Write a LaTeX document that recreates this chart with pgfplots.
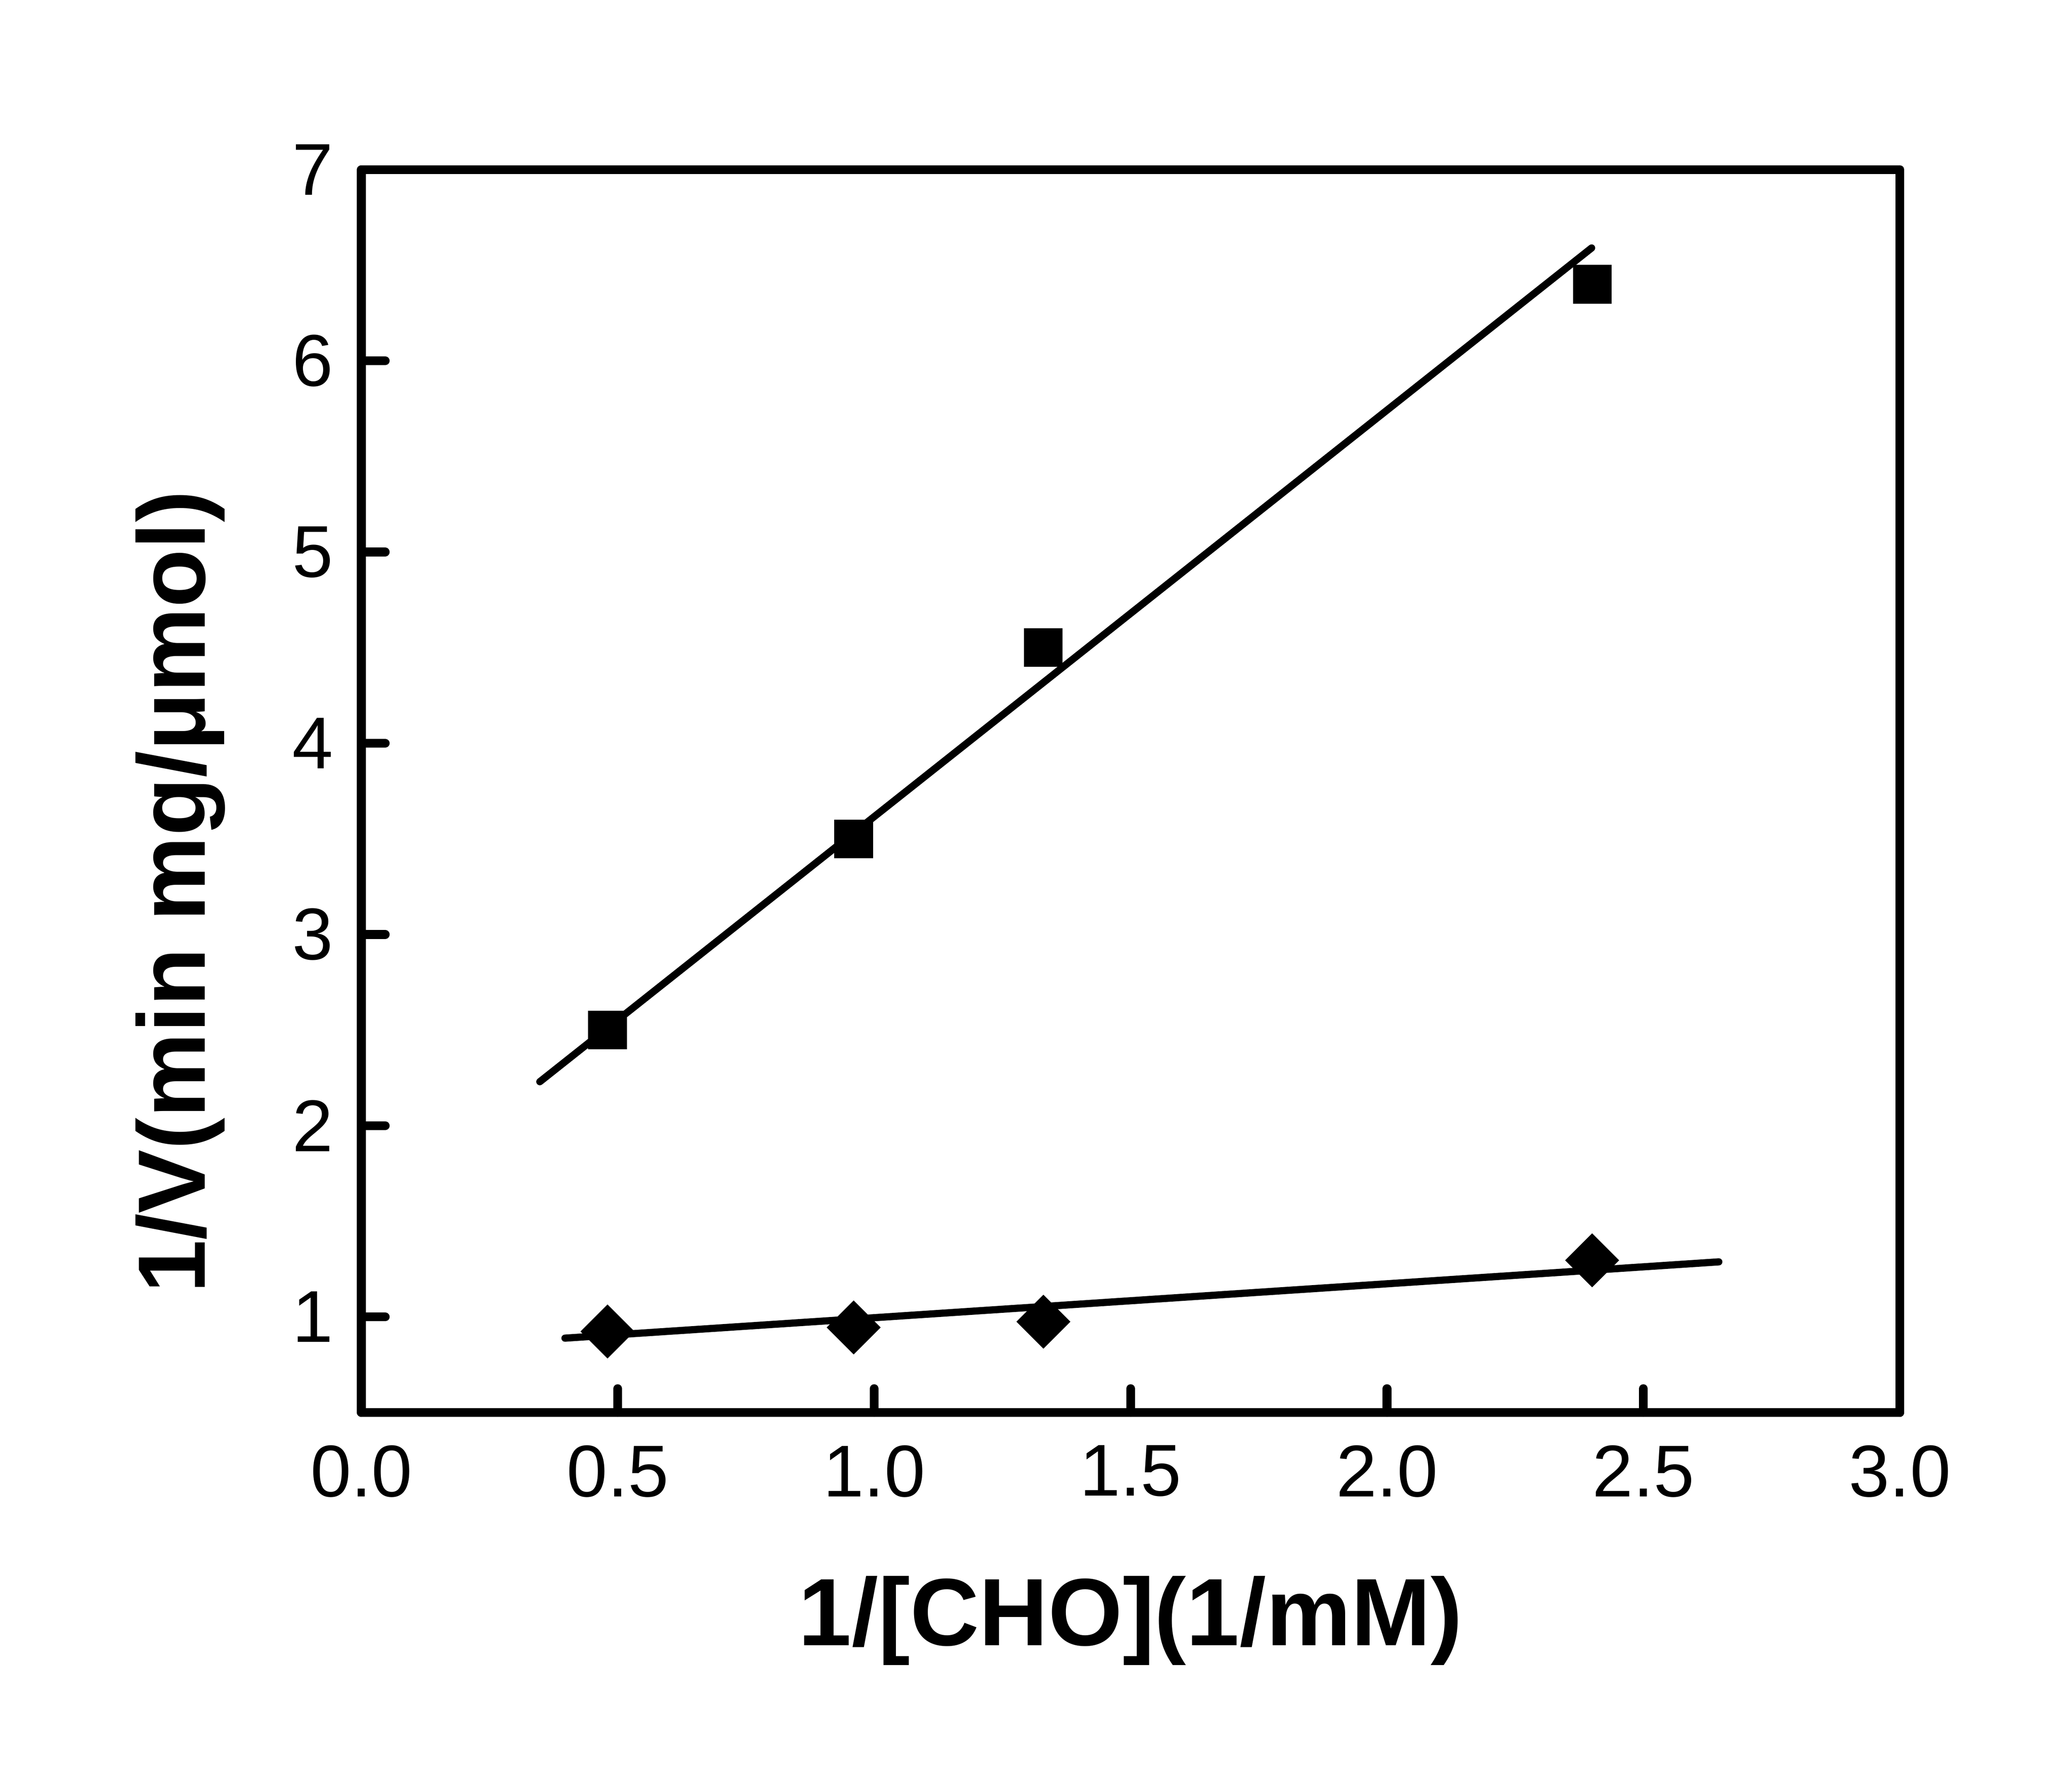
\documentclass[border=0pt]{standalone}
\usepackage{fontspec}
\setmainfont{Liberation Sans}
\usepackage{pgfplots}
\pgfplotsset{compat=1.18}
\begin{document}
\begin{tikzpicture}
\begin{axis}[
  at={(0,0)}, anchor=south west,
  scale only axis,
  width=289.5pt, height=233.9pt,
  xmin=0, xmax=3, ymin=0.5, ymax=7,
  xtick={0,0.5,1,1.5,2,2.5,3},
  ytick={1,2,3,4,5,6,7},
  xtick pos=bottom, ytick pos=left,
  tick align=inside,
  major tick length=4.5pt,
  every tick/.style={black, line width=1.65pt, line cap=round},
  axis line style={line width=1.65pt, line join=round, line cap=round},
  /pgf/number format/assume math mode=true,
  xticklabel={\pgfmathprintnumber[fixed,fixed zerofill,precision=1]{\tick}},
  yticklabel={\pgfmathprintnumber[fixed,precision=0]{\tick}},
  tick label style={font=\fontsize{13.8}{16}\selectfont},
  xticklabel style={anchor=north, inner sep=0pt, yshift=-6pt},
  yticklabel style={anchor=east, inner sep=0pt, xshift=-5.1pt},
  xlabel={1/[CHO](1/mM)},
  ylabel={1/V(min mg/μmol)},
  label style={font=\fontsize{18}{21}\selectfont\bfseries},
  xlabel style={at={(axis description cs:0.5,-0.1873)}, anchor=base},
  ylabel style={at={(axis description cs:-0.1016,0.4188)}, anchor=base, rotate=0},
  clip=false,
]
% fit lines
\addplot[black, line width=1.35pt, line cap=round, no marks] coordinates {(0.348,2.23) (2.399,6.59)};
\addplot[black, line width=1.35pt, line cap=round, no marks] coordinates {(0.397,0.889) (2.647,1.288)};
% squares
\addplot[only marks, mark=square*, mark size=3.43pt, mark options={fill=black, draw=none}] coordinates {
(0.48,2.50) (0.96,3.50) (1.33,4.50) (2.40,6.40)};
% diamonds
\addplot[only marks, mark=square*, mark size=3.39pt, mark options={fill=black, draw=none, rotate=45}] coordinates {
(0.48,0.924) (0.96,0.945) (1.33,0.975) (2.40,1.296)};
\end{axis}
\pgfresetboundingbox
\useasboundingbox (-68pt,-70.8pt) rectangle (321.9pt,265.8pt);
\end{tikzpicture}
\end{document}
